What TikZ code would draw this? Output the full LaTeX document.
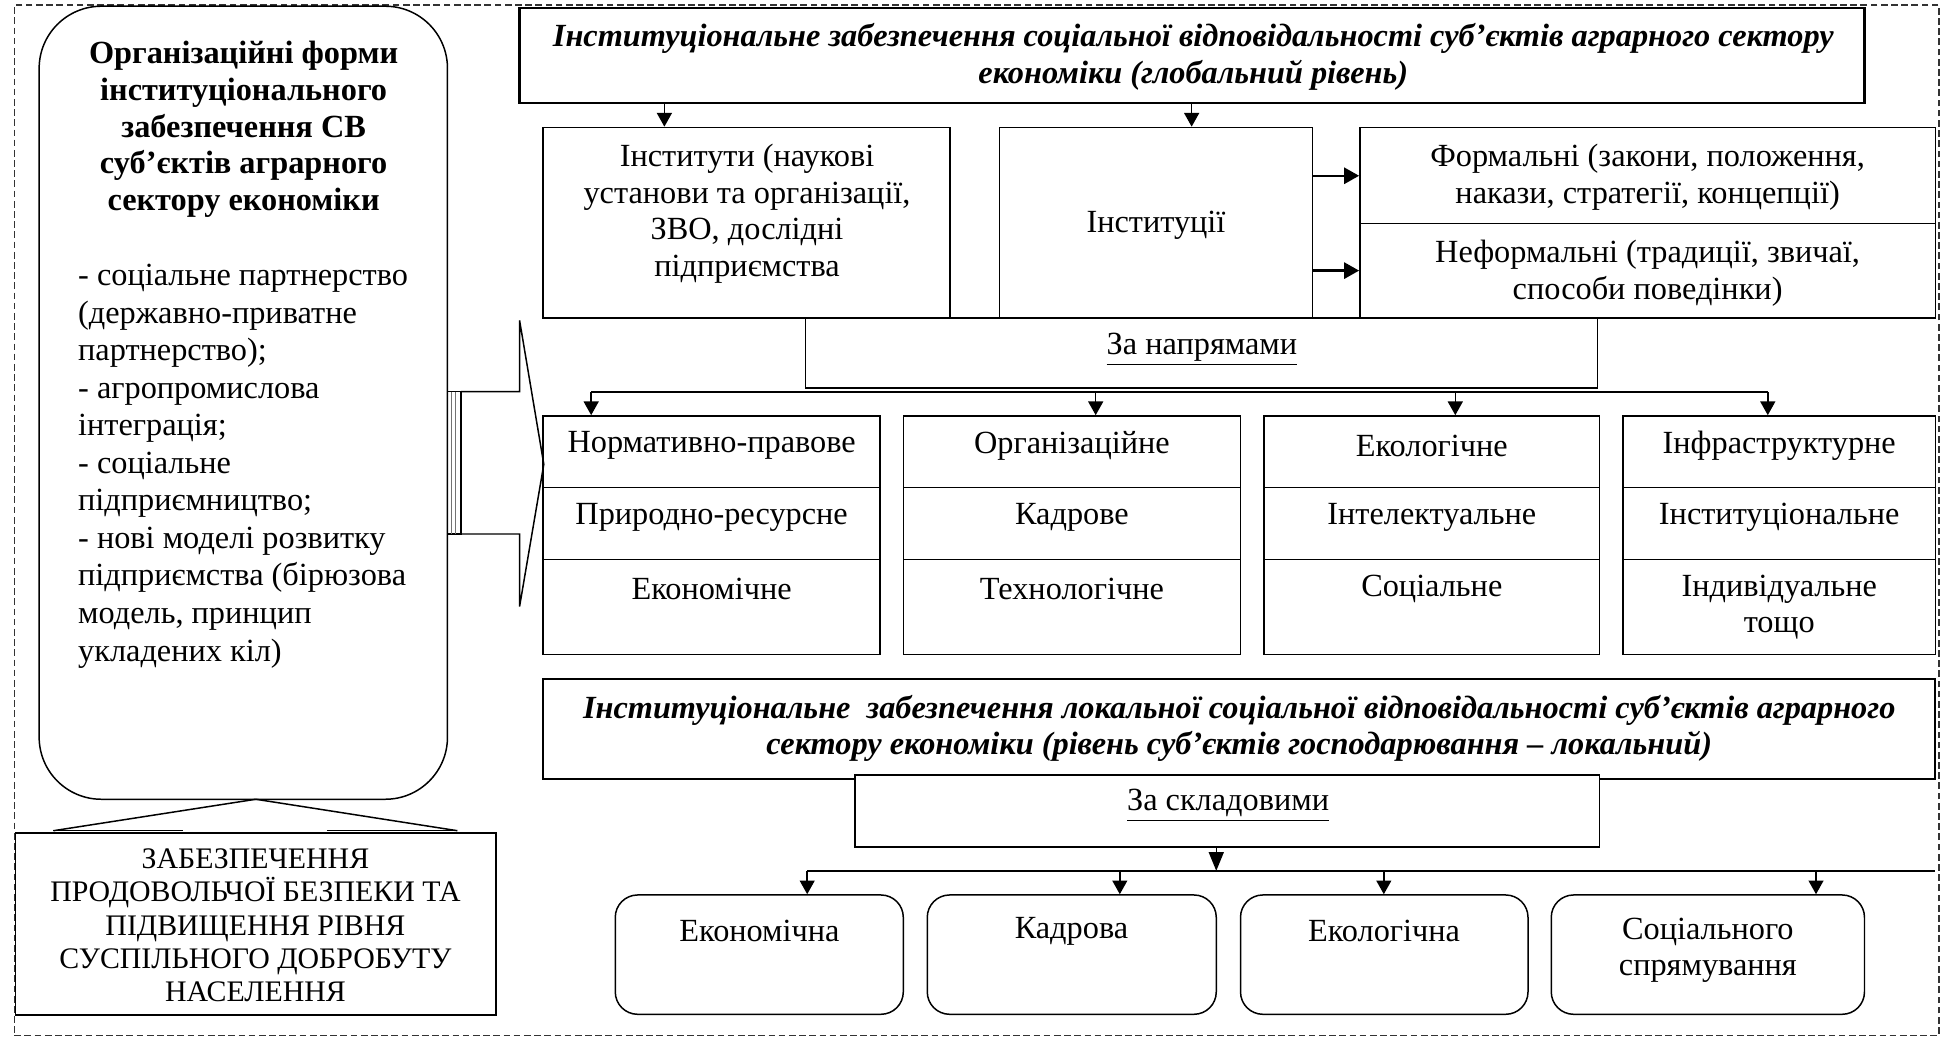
\documentclass[tikz,border=0pt]{standalone}
\usepackage{fontspec}
\setmainfont{Liberation Serif}
\usetikzlibrary{arrows.meta,fit,calc}
\begin{document}
\begin{tikzpicture}[x=0.5pt,y=-0.5pt,
  box/.style={draw, line width=0.6pt, inner sep=0pt},
  tbox/.style={draw, line width=0.9pt, inner sep=0pt},
  rbox/.style={draw, line width=0.6pt, inner sep=0pt, rounded corners=9pt},
  txt/.style={font=\fontsize{13}{14.8}\selectfont, align=center, inner sep=0pt},
  btxt/.style={font=\fontsize{13}{14.8}\selectfont\bfseries\itshape, align=center, inner sep=0pt},
  arr/.style={line width=0.6pt, -{Triangle[length=5.5pt,width=6pt]}},
  harr/.style={line width=0.9pt, -{Triangle[length=6pt,width=6.5pt]}},
  ln/.style={line width=0.6pt},
]
\useasboundingbox (0,0) rectangle (1568,837);
% outer dashed frame
\node[draw=black!80, line width=0.5pt, dash pattern=on 2.7pt off 1.4pt, inner sep=0pt, fit={(11.5,4)(1560,833)}] (frame) {};

% left rounded box
\node[box, rounded corners=25pt, fit={(31.5,5)(360,643)}] (orgbox) {};
\node[txt, font=\fontsize{13}{14.7}\selectfont\bfseries] (orgtitle) at (196,104)
  {Організаційні форми\\інституціонального\\забезпечення СВ\\суб’єктів аграрного\\сектору економіки};
\node[txt, align=left, anchor=west, font=\fontsize{13}{15.1}\selectfont] (orglist) at (62.5,375)
  {- соціальне партнерство\\(державно-приватне\\партнерство);\\- агропромислова\\інтеграція;\\- соціальне\\підприємництво;\\- нові моделі розвитку\\підприємства (бірюзова\\модель, принцип\\укладених кіл)};

% bottom-left box
\node[box, fit={(12.5,670)(399,816.5)}] (goal) {};
\node[txt, font=\fontsize{12}{13.35}\selectfont] (goaltext) at (205.5,744.5)
  {ЗАБЕЗПЕЧЕННЯ\\ПРОДОВОЛЬЧОЇ БЕЗПЕКИ ТА\\ПІДВИЩЕННЯ РІВНЯ\\СУСПІЛЬНОГО ДОБРОБУТУ\\НАСЕЛЕННЯ};
% wedge callout
\coordinate (wapex) at (205.8,643);
\draw[ln] (43,668.3) -- (147,668.3) (263,668.3) -- (368,668.3);
\draw[ln] (43,668.3) -- (wapex) -- (368,668.3);

% right arrow callout
\draw[ln] (360,315) rectangle (371,429.6);
\draw[black!55, line width=0.5pt] (363.5,315) -- (363.5,429.6) (366.5,315) -- (366.5,429.6);
\draw[ln] (371,315) -- (418,315) -- (418,257.7) -- (437.5,373.5) -- (418,488) -- (418,429.6) -- (371,429.6);

% global title
\node[tbox, fit={(418,6.4)(1500,82.7)}] (gtitle) {};
\node[btxt] (gtitletext) at (960,45.5)
  {Інституціональне забезпечення соціальної відповідальності суб’єктів аграрного сектору\\економіки (глобальний рівень)};

% upper boxes
\node[box, fit={(437,102.5)(764.4,256)}] (inst) {};
\node[txt] (insttext) at (601,172) {Інститути (наукові\\установи та організації,\\ЗВО, дослідні\\підприємства};
\node[box, fit={(804,102.5)(1056,256)}] (instc) {};
\node[txt] (instctext) at (930,181.5) {Інституції};
\node[box, fit={(1094,102.5)(1557,179.8)}] (formal) {};
\node[txt] (formaltext) at (1325.5,142.5) {Формальні (закони, положення,\\накази, стратегії, концепції)};
\node[box, fit={(1094,179.8)(1557,256)}] (informal) {};
\node[txt] (informaltext) at (1325.5,219.5) {Неформальні (традиції, звичаї,\\способи поведінки)};

\coordinate (a1) at (534.5,0);
\coordinate (a2) at (958.7,0);
\draw[arr] (gtitle.south -| a1) -- (inst.north -| a1);
\draw[arr] (gtitle.south -| a2) -- (instc.north -| a2);
\coordinate (f1) at (0,141.4);
\coordinate (f2) at (0,217.7);
\draw[harr] (instc.east |- f1) -- (formal.west |- f1);
\draw[harr] (instc.east |- f2) -- (informal.west |- f2);

% directions box
\node[box, fit={(648,256)(1285,312)}] (dirs) {};
\node[txt] (dirstext) at (967,281) {\underline{За напрямами}};

\coordinate (br1) at (475.6,315.5);
\coordinate (br2) at (881.5,315.5);
\coordinate (br3) at (1170.8,315.5);
\coordinate (br4) at (1422.2,315.5);
\draw[ln] (br1) -- (br4);

% four columns
\newcommand\dircol[6]{%
  \node[box, fit={(#2,334.6)(#3,392)}] (#1a) {};
  \node[box, fit={(#2,392)(#3,450)}] (#1b) {};
  \node[box, fit={(#2,450)(#3,526.7)}] (#1c) {};
  \node[txt] (#1at) at ($(#1a.north)+(0,24.5)$) {#4};
  \node[txt] (#1bt) at ($(#1b.north)+(0,24.5)$) {#5};
  \node[txt] (#1ct) at ($(#1c.north)+(0,24.5)$) {#6};
}
\dircol{ca}{437}{708}{Нормативно-правове}{Природно-ресурсне}{Економічне}
\dircol{cb}{726.7}{998}{Організаційне}{Кадрове}{Технологічне}
\dircol{cc}{1017}{1286.8}{Екологічне}{Інтелектуальне}{Соціальне}
\node[box, fit={(1305.8,334.6)(1557,392)}] (cda) {};
\node[box, fit={(1305.8,392)(1557,450)}] (cdb) {};
\node[box, fit={(1305.8,450)(1557,526.7)}] (cdc) {};
\node[txt] (cdat) at ($(cda.north)+(0,24.5)$) {Інфраструктурне};
\node[txt] (cdbt) at ($(cdb.north)+(0,24.5)$) {Інституціональне};
\node[txt] (cdct) at ($(cdc.north)+(0,39)$) {Індивідуальне\\тощо};

\draw[arr] (br1) -- (caa.north -| br1);
\draw[arr] (br2) -- (cba.north -| br2);
\draw[arr] (br3) -- (cca.north -| br3);
\draw[arr] (br4) -- (cda.north -| br4);

% local title
\node[tbox, fit={(437,546)(1557,627)}] (ltitle) {};
\node[btxt] (ltitletext) at (997,586)
  {Інституціональне\ \ забезпечення локальної соціальної відповідальності суб’єктів аграрного\\сектору економіки (рівень суб’єктів господарювання – локальний)};
\node[box, fill=white, fit={(688,623.5)(1286.8,681.4)}] (comp) {};
\node[txt] (comptext) at (988,648) {\underline{За складовими}};

\coordinate (cx) at (978.5,700.6);
\coordinate (lb1) at (649.4,700.6);
\coordinate (lb2) at (900.9,700.6);
\coordinate (lb3) at (1113.3,700.6);
\coordinate (lb4) at (1461,700.6);
\coordinate (lbe) at (1557,700.6);
\draw[line width=0.6pt, -{Triangle[length=7.5pt,width=6pt]}] (comp.south -| cx) -- (cx);
\draw[ln] (lb1) -- (lbe);

\node[rbox, fit={(495,720)(726.7,816)}] (econ) {};
\node[txt] (econt) at (611,749) {Економічна};
\node[rbox, fit={(746,720)(978.5,816)}] (kadr) {};
\node[txt] (kadrt) at (862,749) {Кадрова};
\node[rbox, fit={(998,720)(1229.3,816)}] (ekol) {};
\node[txt] (ekolt) at (1113.5,749) {Екологічна};
\node[rbox, fit={(1248,720)(1500,816)}] (soc) {};
\node[txt] (soct) at (1374,764.5) {Соціального\\спрямування};

\draw[arr] (lb1) -- (econ.north -| lb1);
\draw[arr] (lb2) -- (kadr.north -| lb2);
\draw[arr] (lb3) -- (ekol.north -| lb3);
\draw[arr] (lb4) -- (soc.north -| lb4);
\end{tikzpicture}
\end{document}
